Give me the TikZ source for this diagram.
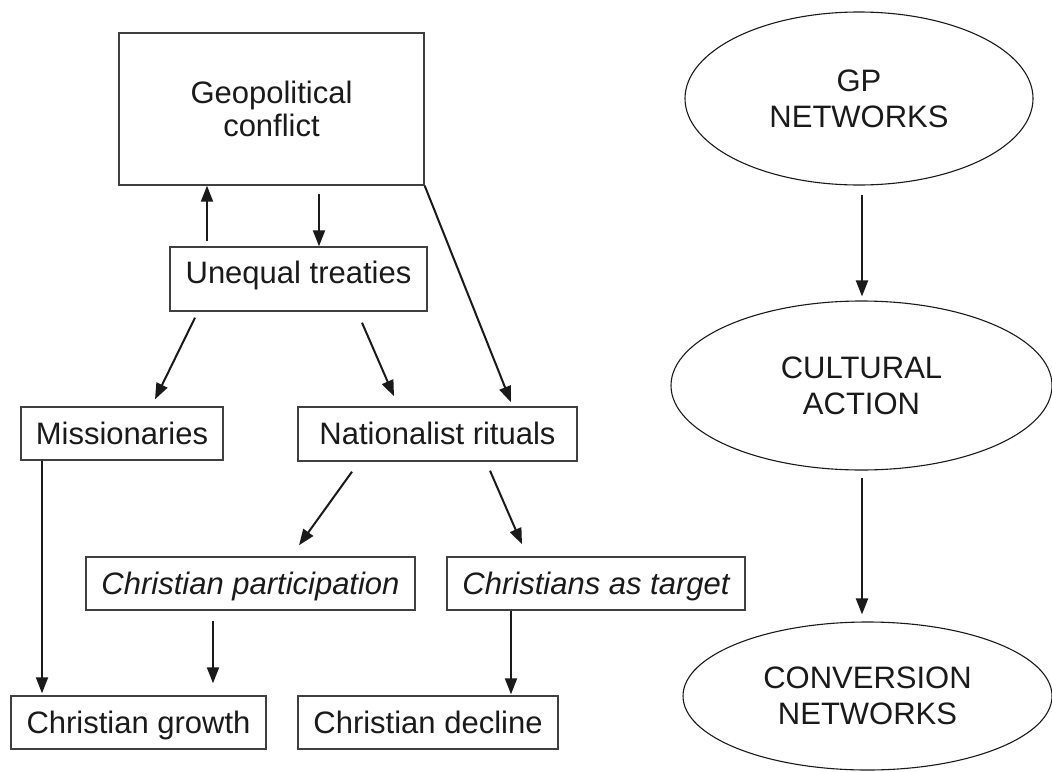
\documentclass[tikz,border=0pt]{standalone}
\usepackage{fontspec}
\setmainfont{Liberation Sans}
\usetikzlibrary{arrows.meta,shapes.geometric}
\definecolor{ink}{HTML}{1A1A1A}
\definecolor{framecol}{HTML}{404040}
\tikzset{
  box/.style={draw=framecol, line width=1.4pt, rectangle, inner sep=0pt, text=ink,
    font=\fontsize{31}{36}\selectfont},
  oneline/.style={text height=21pt, text depth=0pt},
  oval/.style={draw=ink, line width=1.1pt, ellipse, inner sep=0pt, align=center, text=ink,
    font=\fontsize{31}{36}\selectfont},
  arr/.style={draw=ink, line width=2pt, -{Triangle[length=16pt,width=12pt]}},
}
\begin{document}
\begin{tikzpicture}[x=1pt,y=-1pt]
\useasboundingbox (0,0) rectangle (1052,771);
% left flow chart
\node[box, align=center, font=\fontsize{31}{33}\selectfont,
      minimum width=305pt, minimum height=152pt] (geo) at (271.5,109) {Geopolitical\\conflict};
\node[box, text height=22pt, text depth=13pt, minimum width=257pt, minimum height=64pt] (uneq) at (298.5,279) {Unequal treaties};
\node[box, oneline, minimum width=202pt, minimum height=53pt] (miss) at (122,433.5) {Missionaries};
\node[box, oneline, minimum width=279pt, minimum height=54pt] (nat) at (437.5,434) {Nationalist rituals};
\node[box, oneline, font=\fontsize{31}{36}\selectfont\itshape,
      minimum width=329pt, minimum height=53pt] (part) at (250.5,583.5) {Christian participation};
\node[box, oneline, font=\fontsize{31}{36}\selectfont\itshape,
      minimum width=298pt, minimum height=53pt] (targ) at (596,583.5) {Christians as target};
\node[box, oneline, minimum width=255pt, minimum height=53pt] (grow) at (138.5,722.5) {Christian growth};
\node[box, oneline, minimum width=260pt, minimum height=53pt] (decl) at (428,722.5) {Christian decline};
% right column
\node[oval, minimum width=348pt, minimum height=173pt] (gp) at (859,98.5) {GP\\NETWORKS};
\node[oval, minimum width=381pt, minimum height=169pt] (cult) at (861.5,385.5) {CULTURAL\\ACTION};
\node[oval, minimum width=369pt, minimum height=148pt] (conv) at (867.5,696) {CONVERSION\\NETWORKS};
% connectors
\draw[arr] ([xshift=-91.5pt,yshift=5pt]uneq.north) -- ([xshift=-64.5pt]geo.south);
\draw[arr] ([xshift=47.5pt,yshift=-8pt]geo.south) -- ([xshift=20.5pt]uneq.north);
\draw[arr] ([xshift=-103.5pt,yshift=-6pt]uneq.south) -- ([xshift=33pt,yshift=7pt]miss.north);
\draw[arr] ([xshift=63.5pt,yshift=-11pt]uneq.south) -- ([xshift=-43.5pt,yshift=10pt]nat.north);
\draw[arr] (geo.south east) -- ([xshift=73.5pt,yshift=4pt]nat.north);
\draw[arr] ([xshift=-85.5pt,yshift=-10pt]nat.south) -- ([xshift=48.5pt,yshift=11pt]part.north);
\draw[arr] ([xshift=52.5pt,yshift=-9pt]nat.south) -- ([xshift=-74pt,yshift=12pt]targ.north);
\draw[arr] ([xshift=-80pt]miss.south) -- ([xshift=-96.5pt,yshift=2pt]grow.north);
\draw[arr] ([xshift=-37.5pt,yshift=-10pt]part.south) -- ([xshift=74.5pt,yshift=12pt]grow.north);
\draw[arr] ([xshift=-85pt]targ.south) -- ([xshift=83pt,yshift=1pt]decl.north);
\draw[arr] ([xshift=3pt,yshift=-9pt]gp.south) -- ([xshift=0.5pt,yshift=4pt]cult.north);
\draw[arr] ([xshift=0.5pt,yshift=-7pt]cult.south) -- ([xshift=-5.5pt,yshift=7pt]conv.north);
\end{tikzpicture}
\end{document}
